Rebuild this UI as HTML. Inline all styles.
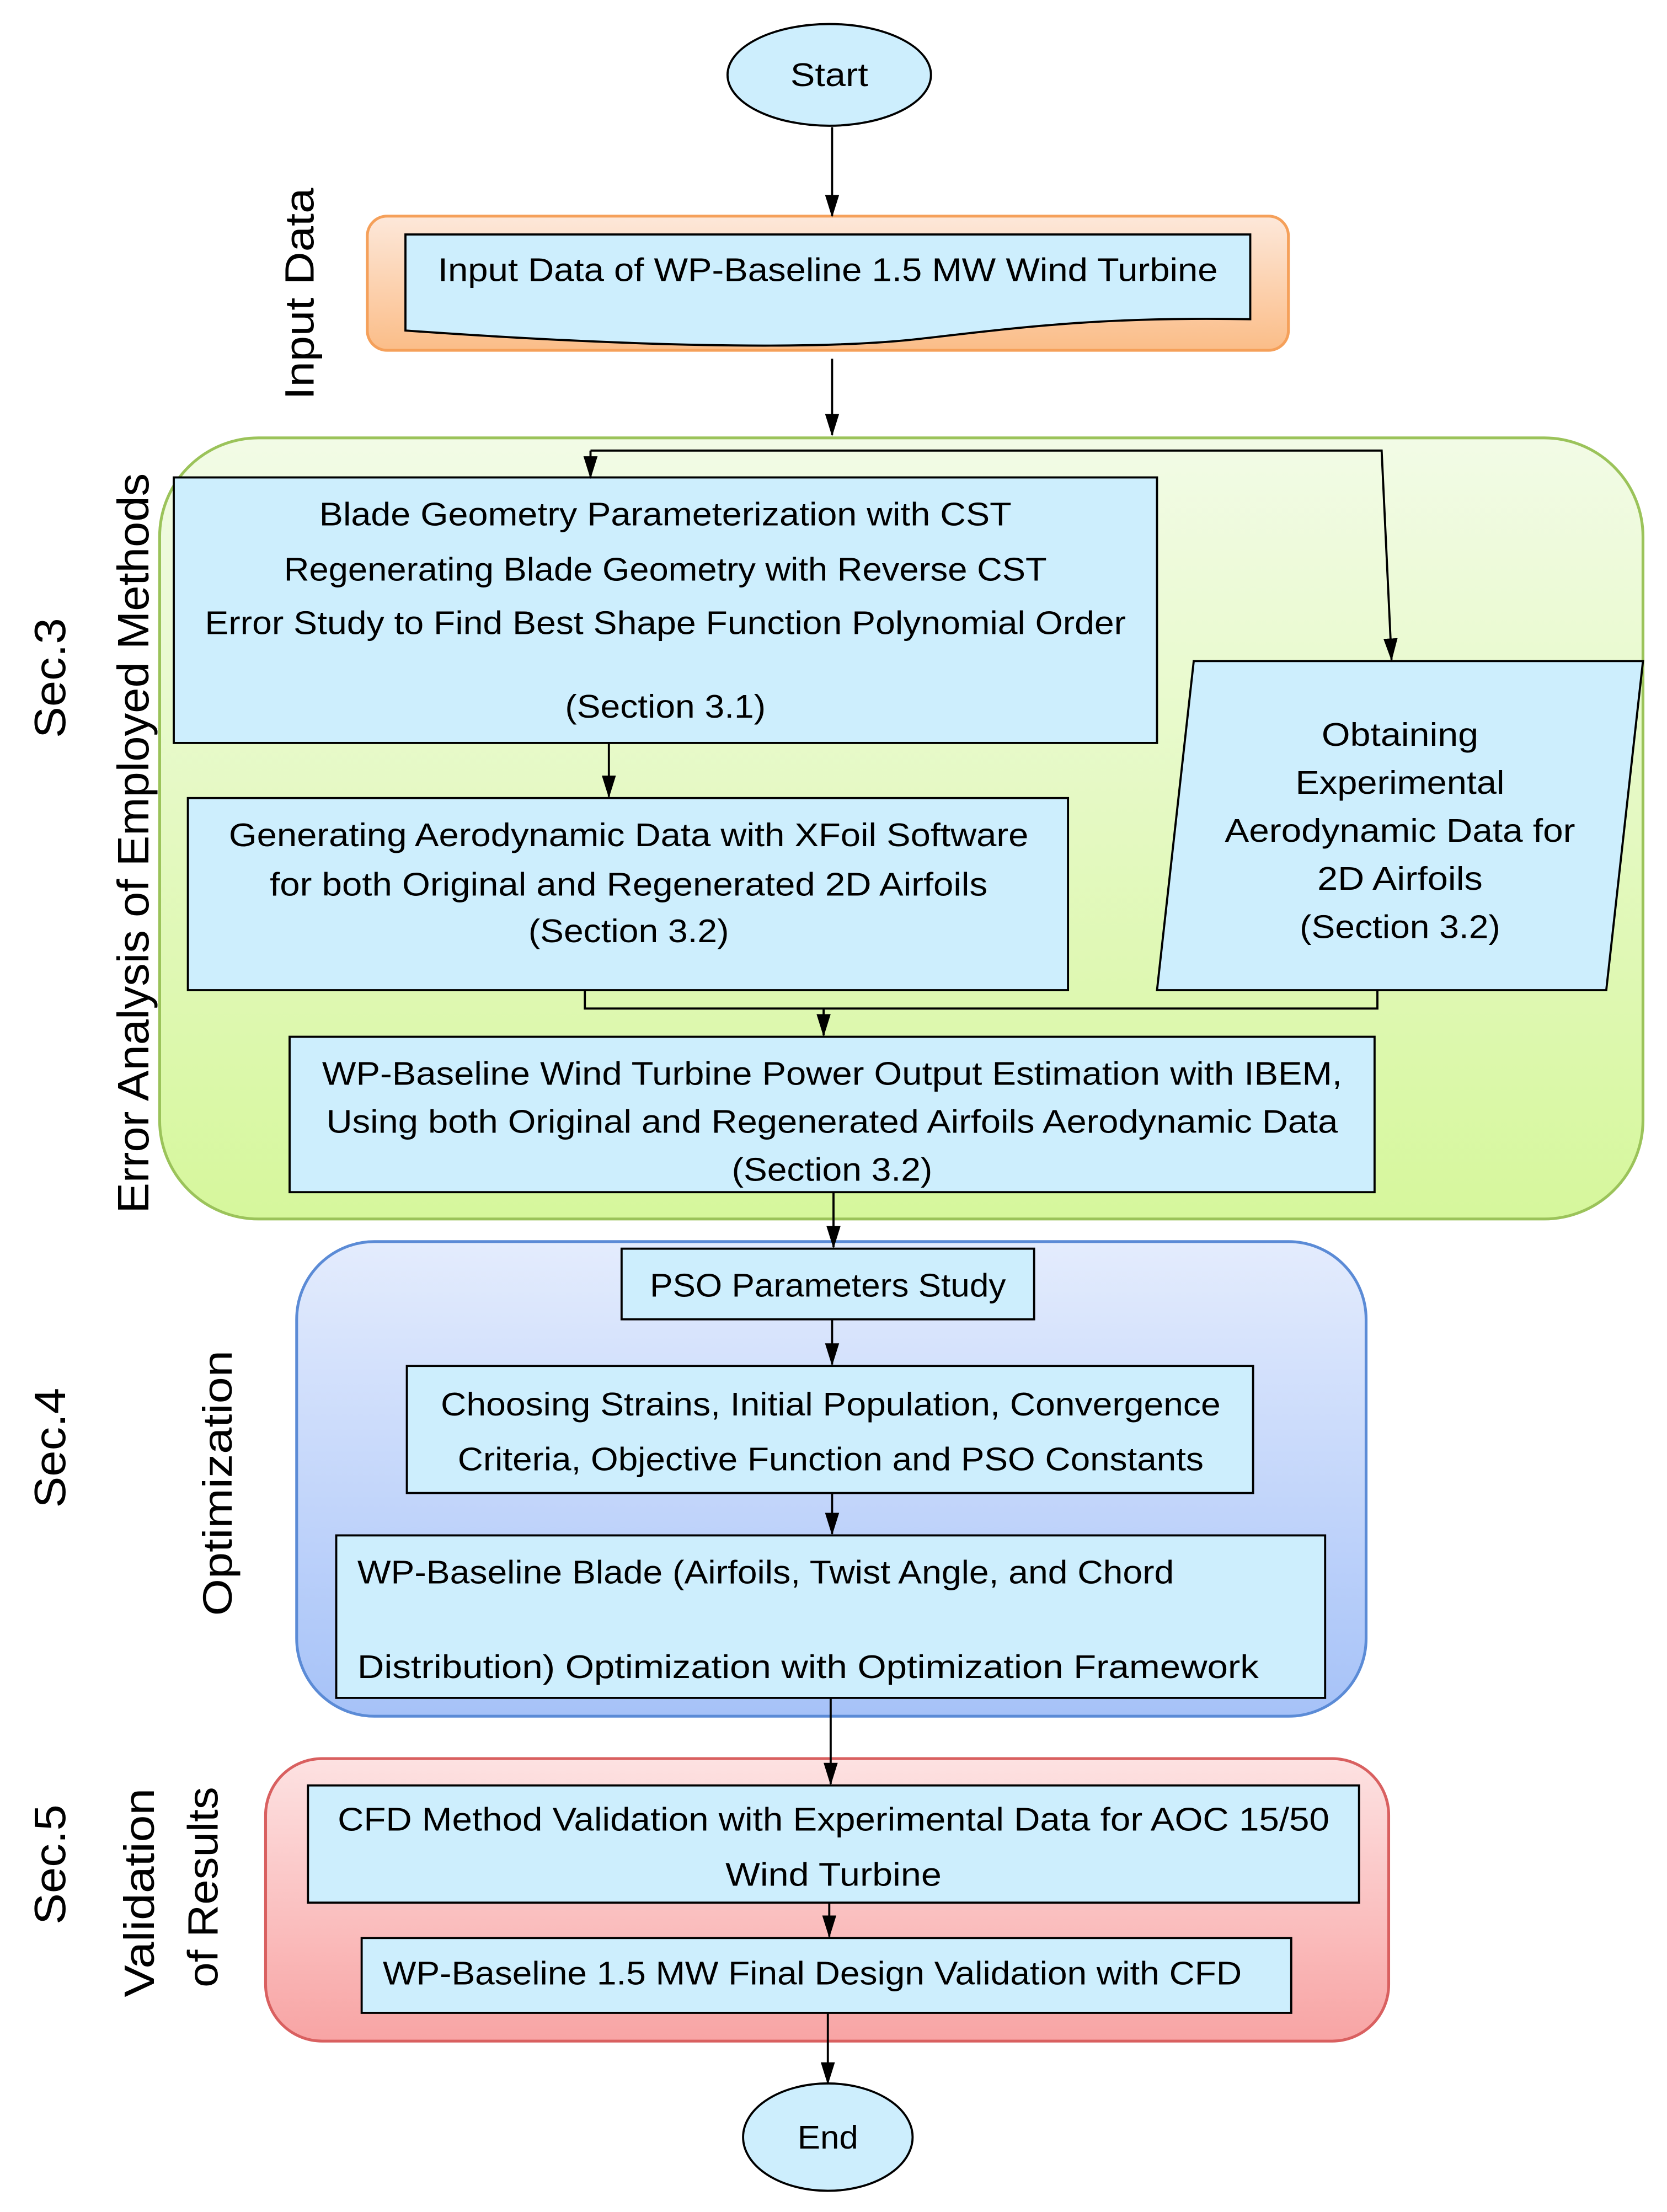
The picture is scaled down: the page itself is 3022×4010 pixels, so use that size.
<!DOCTYPE html>
<html><head><meta charset="utf-8"><style>html,body{margin:0;padding:0;background:#fff}svg{display:block}</style></head>
<body>
<svg width="3022" height="4010" viewBox="0 0 1180 1566" preserveAspectRatio="none" xmlns="http://www.w3.org/2000/svg" font-family="Liberation Sans, sans-serif" font-size="23" fill="#000">
<defs>
<linearGradient id="go" x1="0" y1="0" x2="0" y2="1"><stop offset="0" stop-color="#fde8da"/><stop offset="1" stop-color="#fbbd88"/></linearGradient>
<linearGradient id="gg" x1="0" y1="0" x2="0" y2="1"><stop offset="0" stop-color="#f2fbe6"/><stop offset="1" stop-color="#d6f79c"/></linearGradient>
<linearGradient id="gb" x1="0" y1="0" x2="0" y2="1"><stop offset="0" stop-color="#e4ecfd"/><stop offset="1" stop-color="#a6c2f8"/></linearGradient>
<linearGradient id="gr" x1="0" y1="0" x2="0" y2="1"><stop offset="0" stop-color="#fde2e2"/><stop offset="1" stop-color="#f8a4a4"/></linearGradient>
<marker id="a" markerWidth="16" markerHeight="12" refX="15" refY="6" orient="auto" markerUnits="userSpaceOnUse" viewBox="0 0 16 12"><path d="M0,1 L16,6 L0,11 Z" fill="#000"/></marker>
</defs>
<g stroke="#000" stroke-width="1.5" fill="none">
<rect x="260" y="153" width="652" height="95" rx="14" fill="url(#go)" stroke="#f5a05a" stroke-width="2"/>
<rect x="113" y="310" width="1050" height="553" rx="70" fill="url(#gg)" stroke="#9bc35a" stroke-width="2"/>
<rect x="210" y="879" width="757" height="336" rx="55" fill="url(#gb)" stroke="#5b8bd6" stroke-width="2"/>
<rect x="188" y="1245" width="795" height="200" rx="40" fill="url(#gr)" stroke="#d96060" stroke-width="2"/>
<ellipse cx="587" cy="53" rx="72" ry="36" fill="#cdeefd"/>
<ellipse cx="586" cy="1513" rx="60" ry="38" fill="#cdeefd"/>
<path d="M287,166 L885,166 L885,226 C780,224 720,232 650,240 C560,250 400,242 287,234 Z" fill="#cdeefd"/>
<rect x="123" y="338" width="696" height="188" fill="#cdeefd"/>
<rect x="133" y="565" width="623" height="136" fill="#cdeefd"/>
<path d="M845,468 L1163,468 L1137,701 L819,701 Z" fill="#cdeefd"/>
<rect x="205" y="734" width="768" height="110" fill="#cdeefd"/>
<rect x="440" y="884" width="292" height="50" fill="#cdeefd"/>
<rect x="288" y="967" width="599" height="90" fill="#cdeefd"/>
<rect x="238" y="1087" width="700" height="115" fill="#cdeefd"/>
<rect x="218" y="1264" width="744" height="83" fill="#cdeefd"/>
<rect x="256" y="1372" width="658" height="53" fill="#cdeefd"/>
<line x1="589" y1="90" x2="589" y2="153" marker-end="url(#a)"/>
<line x1="589" y1="254" x2="589" y2="308" marker-end="url(#a)"/>
<polyline points="418,319 978,319 985,467" marker-end="url(#a)"/>
<line x1="418" y1="319" x2="418" y2="338" marker-end="url(#a)"/>
<line x1="431" y1="526" x2="431" y2="564" marker-end="url(#a)"/>
<polyline points="414,701 414,714 975,714 975,701"/>
<line x1="583" y1="714" x2="583" y2="733" marker-end="url(#a)"/>
<line x1="590" y1="844" x2="590" y2="883" marker-end="url(#a)"/>
<line x1="589" y1="934" x2="589" y2="966" marker-end="url(#a)"/>
<line x1="589" y1="1057" x2="589" y2="1086" marker-end="url(#a)"/>
<line x1="588" y1="1202" x2="588" y2="1263" marker-end="url(#a)"/>
<line x1="587" y1="1347" x2="587" y2="1371" marker-end="url(#a)"/>
<line x1="586" y1="1425" x2="586" y2="1475" marker-end="url(#a)"/>
</g>
<g text-anchor="middle">
<text x="587" y="61" textLength="55" lengthAdjust="spacingAndGlyphs">Start</text>
<text x="586" y="1521" textLength="43" lengthAdjust="spacingAndGlyphs">End</text>
<text x="586" y="199" textLength="552" lengthAdjust="spacingAndGlyphs">Input Data of WP-Baseline 1.5 MW Wind Turbine</text>
<text x="471" y="372" textLength="490" lengthAdjust="spacingAndGlyphs">Blade Geometry Parameterization with CST</text>
<text x="471" y="411" textLength="540" lengthAdjust="spacingAndGlyphs">Regenerating Blade Geometry with Reverse CST</text>
<text x="471" y="449" textLength="652" lengthAdjust="spacingAndGlyphs">Error Study to Find Best Shape Function Polynomial Order</text>
<text x="471" y="508" textLength="142" lengthAdjust="spacingAndGlyphs">(Section 3.1)</text>
<text x="445" y="599" textLength="566" lengthAdjust="spacingAndGlyphs">Generating Aerodynamic Data with XFoil Software</text>
<text x="445" y="634" textLength="508" lengthAdjust="spacingAndGlyphs">for both Original and Regenerated 2D Airfoils</text>
<text x="445" y="667" textLength="142" lengthAdjust="spacingAndGlyphs">(Section 3.2)</text>
<text x="991" y="528" textLength="111" lengthAdjust="spacingAndGlyphs">Obtaining</text>
<text x="991" y="562" textLength="148" lengthAdjust="spacingAndGlyphs">Experimental</text>
<text x="991" y="596" textLength="248" lengthAdjust="spacingAndGlyphs">Aerodynamic Data for</text>
<text x="991" y="630" textLength="117" lengthAdjust="spacingAndGlyphs">2D Airfoils</text>
<text x="991" y="664" textLength="142" lengthAdjust="spacingAndGlyphs">(Section 3.2)</text>
<text x="589" y="768" textLength="722" lengthAdjust="spacingAndGlyphs">WP-Baseline Wind Turbine Power Output Estimation with IBEM,</text>
<text x="589" y="802" textLength="716" lengthAdjust="spacingAndGlyphs">Using both Original and Regenerated Airfoils Aerodynamic Data</text>
<text x="589" y="836" textLength="142" lengthAdjust="spacingAndGlyphs">(Section 3.2)</text>
<text x="586" y="918" textLength="252" lengthAdjust="spacingAndGlyphs">PSO Parameters Study</text>
<text x="588" y="1002" textLength="552" lengthAdjust="spacingAndGlyphs">Choosing Strains, Initial Population, Convergence</text>
<text x="588" y="1041" textLength="528" lengthAdjust="spacingAndGlyphs">Criteria, Objective Function and PSO Constants</text>
<text x="590" y="1296" textLength="702" lengthAdjust="spacingAndGlyphs">CFD Method Validation with Experimental Data for AOC 15/50</text>
<text x="590" y="1335" textLength="153" lengthAdjust="spacingAndGlyphs">Wind Turbine</text>
<text x="575" y="1405" textLength="608" lengthAdjust="spacingAndGlyphs">WP-Baseline 1.5 MW Final Design Validation with CFD</text>
</g>
<text x="253" y="1121" textLength="578" lengthAdjust="spacingAndGlyphs">WP-Baseline Blade (Airfoils, Twist Angle, and Chord</text>
<text x="253" y="1188" textLength="638" lengthAdjust="spacingAndGlyphs">Distribution) Optimization with Optimization Framework</text>
<g text-anchor="middle" font-size="31">
<text transform="translate(222,208) rotate(-90)" font-size="29" textLength="150" lengthAdjust="spacingAndGlyphs">Input Data</text>
<text transform="translate(46,480) rotate(-90)" textLength="85" lengthAdjust="spacingAndGlyphs">Sec.3</text>
<text transform="translate(105,597) rotate(-90)" textLength="524" lengthAdjust="spacingAndGlyphs">Error Analysis of Employed Methods</text>
<text transform="translate(46,1025) rotate(-90)" textLength="85" lengthAdjust="spacingAndGlyphs">Sec.4</text>
<text transform="translate(164,1050) rotate(-90)" font-size="29" textLength="188" lengthAdjust="spacingAndGlyphs">Optimization</text>
<text transform="translate(46,1320) rotate(-90)" textLength="85" lengthAdjust="spacingAndGlyphs">Sec.5</text>
<text transform="translate(109,1340) rotate(-90)" font-size="30" textLength="148" lengthAdjust="spacingAndGlyphs">Validation</text>
<text transform="translate(154,1336) rotate(-90)" font-size="30" textLength="142" lengthAdjust="spacingAndGlyphs">of Results</text>
</g>
</svg>
</body></html>
